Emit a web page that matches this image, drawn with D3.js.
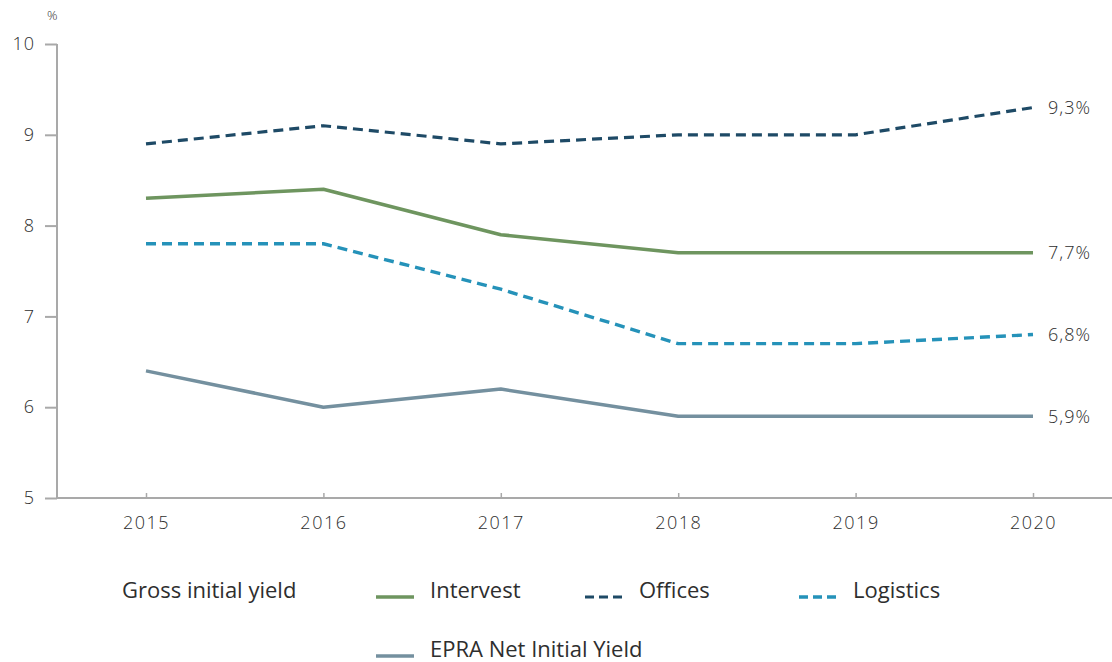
<!DOCTYPE html>
<html>
<head>
<meta charset="utf-8">
<script src="https://cdn.jsdelivr.net/npm/d3@7/dist/d3.min.js"></script>
<style>
  html, body { margin: 0; padding: 0; background: #fff; }
  svg { display: block; font-family: "Open Sans", "Noto Sans", sans-serif; }
</style>
</head>
<body>
<svg id="chart" width="1112" height="662"></svg>
<script>
// Yield history 2015–2020 (%)
const years = ["2015", "2016", "2017", "2018", "2019", "2020"];
const intervest = [8.3, 8.4, 7.9, 7.7, 7.7, 7.7];
const offices   = [8.9, 9.1, 8.9, 9.0, 9.0, 9.3];
const logistics = [7.8, 7.8, 7.3, 6.7, 6.7, 6.8];
const epraNiy   = [6.4, 6.0, 6.2, 5.9, 5.9, 5.9];
const yTicks = [5, 6, 7, 8, 9, 10];
const endLabels = ["9,3%", "7,7%", "6,8%", "5,9%"];

const series = [
  { name: "Intervest", values: intervest, color: "#6e955f", dash: null, width: 3.5 },
  { name: "Offices", values: offices, color: "#1e4a66", dash: "10,6", width: 3.2 },
  { name: "Logistics", values: logistics, color: "#2592b9", dash: "10,6", width: 3.4 },
  { name: "EPRA Net Initial Yield", values: epraNiy, color: "#74909f", dash: null, width: 3.5 }
];

const svg = d3.select("#chart");

const x = d3.scalePoint().domain(years).range([146, 1033]);
const y = d3.scaleLinear().domain([5, 10]).range([498, 44]);

const axisColor = "#a9a9a9";
const textColor = "#2e2e2e";
const numFont = "'Open Sans', sans-serif";

// Y axis
const yAxis = svg.append("g").attr("transform", "translate(57,0)")
  .call(d3.axisLeft(y).tickValues(yTicks).tickSize(12).tickPadding(10).tickFormat(d3.format("d")));
yAxis.select(".domain").attr("stroke", axisColor).attr("stroke-width", 2).attr("d", "M0,44V498");
yAxis.selectAll(".tick line").attr("stroke", axisColor).attr("stroke-width", 2);
yAxis.selectAll(".tick text").attr("fill", textColor).attr("font-size", 18)
  .attr("font-weight", 300).attr("letter-spacing", 1).attr("font-family", numFont);

// X axis
const xAxis = svg.append("g").attr("transform", "translate(0,498)")
  .call(d3.axisBottom(x).tickSize(-5).tickPadding(18));
xAxis.select(".domain").attr("stroke", axisColor).attr("stroke-width", 2).attr("d", "M57,0H1112");
xAxis.selectAll(".tick line").attr("stroke", axisColor).attr("stroke-width", 1.5);
xAxis.selectAll(".tick text").attr("fill", textColor).attr("font-size", 18)
  .attr("font-weight", 300).attr("letter-spacing", 1.5).attr("font-family", numFont);

// Unit label
svg.append("text").attr("x", 47).attr("y", 20).attr("font-size", 13)
  .attr("font-weight", 300).attr("fill", textColor).text("%");

// Lines
const line = d3.line()
  .x((d, i) => x(years[i]))
  .y(d => y(d))
  .curve(d3.curveLinear);

series.forEach(s => {
  svg.append("path")
    .attr("d", line(s.values))
    .attr("fill", "none")
    .attr("stroke", s.color)
    .attr("stroke-width", s.width)
    .attr("stroke-dasharray", s.dash)
    .attr("stroke-linejoin", "round");
});

// End-of-line value labels
const labelled = [offices, intervest, logistics, epraNiy];
labelled.forEach((vals, i) => {
  svg.append("text")
    .attr("x", 1048)
    .attr("y", y(vals[vals.length - 1]))
    .attr("dy", "0.35em")
    .attr("font-size", 18)
    .attr("font-weight", 300)
    .attr("letter-spacing", 1)
    .attr("font-family", numFont)
    .attr("fill", textColor)
    .text(endLabels[i]);
});

// Legend
const legend = svg.append("g").attr("font-size", 22).attr("fill", textColor);
legend.append("text").attr("x", 122).attr("y", 590).attr("dy", "0.35em").text("Gross initial yield");

const legendPos = [
  { s: series[0], x: 376, y: 597 },
  { s: series[1], x: 585, y: 597 },
  { s: series[2], x: 799, y: 597 },
  { s: series[3], x: 376, y: 656 }
];
legendPos.forEach(p => {
  legend.append("line")
    .attr("x1", p.x).attr("x2", p.x + 38)
    .attr("y1", p.y).attr("y2", p.y)
    .attr("stroke", p.s.color)
    .attr("stroke-width", p.s.width)
    .attr("stroke-dasharray", p.s.dash ? "9,5" : null);
  legend.append("text")
    .attr("x", p.x + 54).attr("y", p.y - 7)
    .attr("dy", "0.35em")
    .text(p.s.name);
});
</script>
</body>
</html>
